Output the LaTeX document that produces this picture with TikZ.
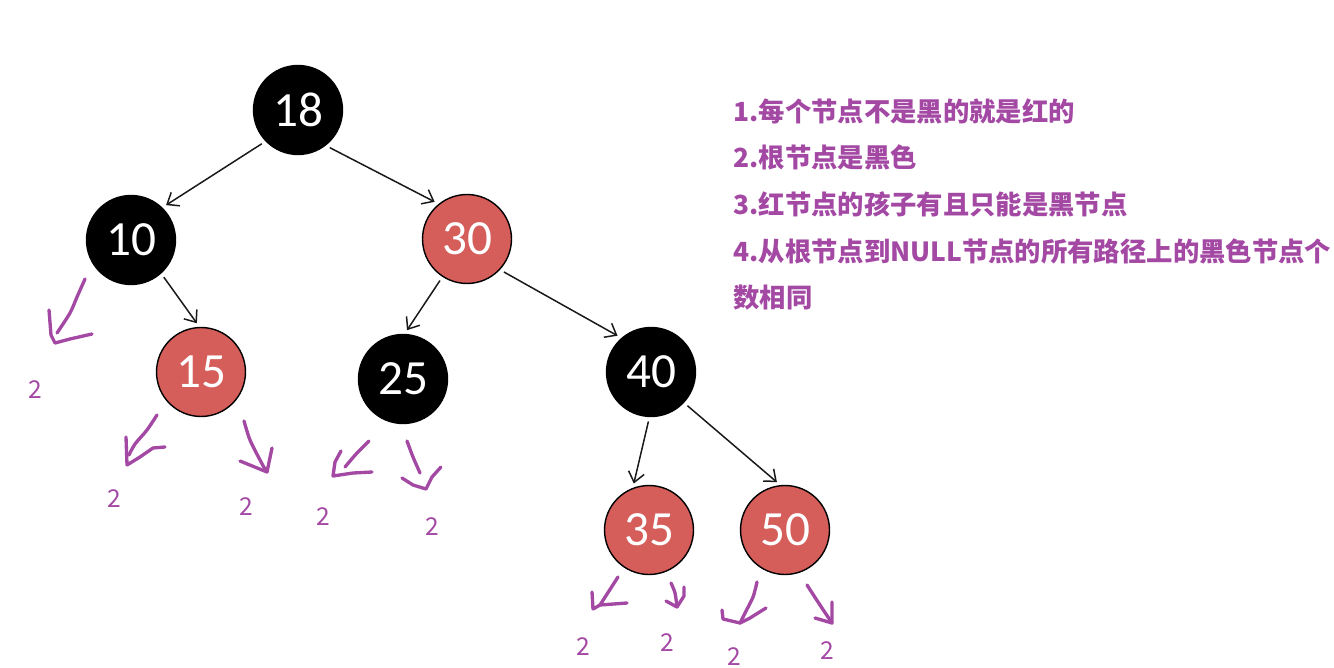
\documentclass[tikz,border=0pt]{standalone}
\usepackage{fontspec}
\newfontfamily\cjk{Noto Sans CJK SC}
\newfontfamily\numfont{Carlito}
\usetikzlibrary{arrows.meta}
\definecolor{nodered}{RGB}{213,94,90}
\definecolor{penpurple}{RGB}{163,73,164}
\tikzset{
  rb/.style={circle,draw=black,line width=0.8pt,minimum size=1.78cm,inner sep=0pt,
    font=\numfont\fontsize{28pt}{30pt}\selectfont,text=white},
  blacknode/.style={rb,fill=black},
  rednode/.style={rb,fill=nodered},
  link/.style={-{Straight Barb[length=2mm,width=3.2mm]},draw=black!90,line width=0.85pt,
    shorten <=2.5pt,shorten >=2.5pt},
}

\begin{document}
\begin{tikzpicture}[x=0.02cm,y=-0.02cm,
   pen/.style={draw=penpurple,line width=1.9pt,line cap=round,line join=round},
   nil/.style={text=penpurple,inner sep=0pt,font=\cjk\fontsize{14pt}{16pt}\selectfont},
   rule/.style={anchor=base west,inner sep=0pt,text=penpurple,font=\cjk\bfseries\fontsize{15pt}{18pt}\selectfont}]
  \useasboundingbox (0,0) rectangle (1334,668);
  \node[blacknode] (n18) at (298,110) {18};
  \node[blacknode] (n10) at (131,240) {10};
  \node[rednode] (n30) at (467,239) {30};
  \node[rednode] (n15) at (201,372) {15};
  \node[blacknode] (n25) at (403,379) {25};
  \node[blacknode] (n40) at (651,372) {40};
  \node[rednode] (n35) at (649,530) {35};
  \node[rednode] (n50) at (785,530) {50};
  \path (n18.224) edge[link] (n10.46)
        (n18.308) edge[link] (n30.129)
        (n10.312) edge[link] (n15.92)
        (n30.237) edge[link] (n25.88)
        (n30.317) edge[link] (n40.131)
        (n40.268) edge[link] (n35.111)
        (n40.317) edge[link] (n50.96);

  \draw[pen] plot[smooth] coordinates {(85,279) (77,297) (70,313) (57,333)};
  \draw[pen] (49,310) -- (51,335) -- (55,343) -- (70,339) -- (92,334);
  \draw[pen] plot[smooth] coordinates {(157,415) (147,430) (135,444) (129,455)};
  \draw[pen] (126,437) -- (127,465) -- (140,457) -- (153,448) -- (165,447);
  \draw[pen] plot[smooth] coordinates {(244,421) (250,440) (260,460) (266,471)};
  \draw[pen] (240,461) -- (267,472) -- (272,448);
  \draw[pen] plot[smooth] coordinates {(369,441) (357,453) (345,467)};
  \draw[pen] (341,451) -- (335,462) -- (333,476) -- (353,473) -- (372,472);
  \draw[pen] plot[smooth] coordinates {(407,441) (413,457) (420,473)};
  \draw[pen] (402,478) -- (413,485) -- (426,489) -- (432,477) -- (441,467);
  \draw[pen] plot[smooth] coordinates {(618,577) (609,591) (600,605)};
  \draw[pen] (592,592) -- (593,609) -- (600,605) -- (627,603);
  \draw[pen] plot[smooth] coordinates {(671,583) (675,593) (677,607)};
  \draw[pen] (666,601) -- (677,607) -- (684,596) -- (684,587);
  \draw[pen] plot[smooth] coordinates {(757,582) (753,597) (745,613) (740,623)};
  \draw[pen] (722,610) -- (723,619) -- (740,623) -- (750,618) -- (766,608);
  \draw[pen] plot[smooth] coordinates {(807,585) (818,602) (832,623)};
  \draw[pen] (815,618) -- (832,623) -- (832,602);

  \node[nil] (z1) at (35,390) {2};
  \node[nil] (z2) at (114,499) {2};
  \node[nil] (z3) at (246,507) {2};
  \node[nil] (z4) at (323,517) {2};
  \node[nil] (z5) at (432,527) {2};
  \node[nil] (z6) at (583,647) {2};
  \node[nil] (z7) at (667,643) {2};
  \node[nil] (z8) at (734,657) {2};
  \node[nil] (z9) at (827,651) {2};

  \node[rule] (r1) at (733,122) {1.每个节点不是黑的就是红的};
  \node[rule] (r2) at (733,168) {2.根节点是黑色};
  \node[rule] (r3) at (733,215) {3.红节点的孩子有且只能是黑节点};
  \node[rule] (r4) at (733,262) {4.从根节点到NULL节点的所有路径上的黑色节点个};
  \node[rule] (r5) at (733,308) {数相同};
\end{tikzpicture}
\end{document}
